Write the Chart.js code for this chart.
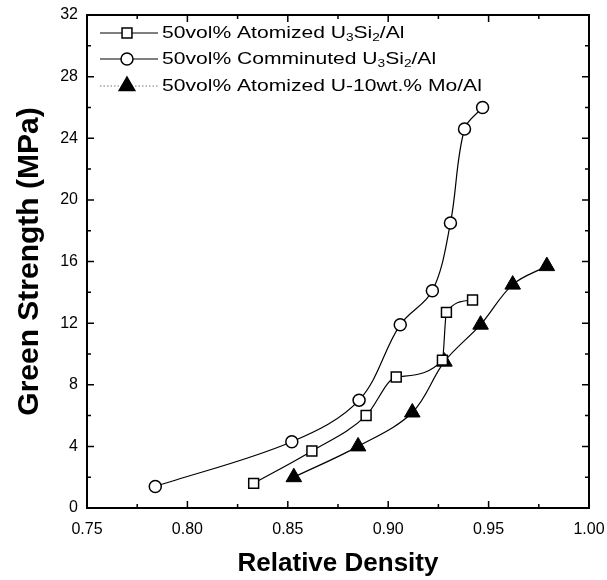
<!DOCTYPE html>
<html>
<head>
<meta charset="utf-8">
<script src="https://cdn.jsdelivr.net/npm/chart.js@4.4.0/dist/chart.umd.min.js"></script>
<style>
  html, body { margin: 0; padding: 0; background: #fff; }
</style>
</head>
<body>
<canvas id="myChart" width="607" height="580"></canvas>
<script>
// values
const atomizedDensity = [0.833, 0.862, 0.889, 0.904, 0.927, 0.929, 0.942];
const atomizedStrength = [1.6, 3.7, 6.0, 8.5, 9.6, 12.7, 13.5];
const comminutedDensity = [0.784, 0.852, 0.8855, 0.906, 0.922, 0.931, 0.938, 0.947];
const comminutedStrength = [1.4, 4.3, 7.0, 11.9, 14.1, 18.5, 24.6, 26.0];
const umoDensity = [0.853, 0.885, 0.912, 0.928, 0.946, 0.962, 0.979];
const umoStrength = [2.0, 4.0, 6.2, 9.5, 11.9, 14.5, 15.7];

const xTicks = [0.75, 0.80, 0.85, 0.90, 0.95, 1.00];
const yTicks = [0, 4, 8, 12, 16, 20, 24, 28, 32];

// legend text pieces: [text, isSubscript]
const legendRows = [
    { style: 'rect', fill: false, dotted: false,
      parts: [["50vol% Atomized U", 0], ["3", 1], ["Si", 0], ["2", 1], ["/Al", 0]] },
    { style: 'circle', fill: false, dotted: false,
      parts: [["50vol% Comminuted U", 0], ["3", 1], ["Si", 0], ["2", 1], ["/Al", 0]] },
    { style: 'triangle', fill: true, dotted: true,
      parts: [["50vol% Atomized U-10wt.% Mo/Al", 0]] }
];

function toPoints(xs, ys) {
    return xs.map((x, i) => ({ x: x, y: ys[i] }));
}

const framePlugin = {
    id: 'frame',
    afterDraw(chart) {
        const ctx = chart.ctx;
        const a = chart.chartArea;
        const xs = chart.scales.x;
        const ys = chart.scales.y;
        ctx.save();
        ctx.strokeStyle = '#000';
        ctx.lineWidth = 2;
        ctx.strokeRect(a.left, a.top, a.right - a.left, a.bottom - a.top);
        ctx.lineWidth = 1.5;
        ctx.beginPath();
        for (let v = 0.75; v <= 1.0001; v += 0.025) {
            const major = Math.abs(Math.round(v * 20) - v * 20) < 1e-6;
            const len = major ? 7 : 4;
            const px = xs.getPixelForValue(v);
            ctx.moveTo(px, a.bottom); ctx.lineTo(px, a.bottom - len);
            ctx.moveTo(px, a.top); ctx.lineTo(px, a.top + len);
        }
        for (let v = 0; v <= 32; v += 2) {
            const len = v % 4 === 0 ? 7 : 4;
            const py = ys.getPixelForValue(v);
            ctx.moveTo(a.left, py); ctx.lineTo(a.left + len, py);
            ctx.moveTo(a.right, py); ctx.lineTo(a.right - len, py);
        }
        ctx.stroke();

        // legend
        const rowY = [33, 59, 86];
        legendRows.forEach((row, i) => {
            const y = rowY[i];
            ctx.save();
            ctx.lineWidth = 1.2;
            ctx.strokeStyle = row.dotted ? '#777' : '#000';
            ctx.setLineDash(row.dotted ? [1.5, 2] : []);
            ctx.beginPath();
            ctx.moveTo(100, y); ctx.lineTo(158, y);
            ctx.stroke();
            ctx.restore();
            ctx.fillStyle = row.fill ? '#000' : '#fff';
            ctx.strokeStyle = '#000';
            ctx.lineWidth = 1.5;
            Chart.helpers.drawPoint(ctx, {
                pointStyle: row.style,
                radius: row.style === 'triangle' ? 9 : (row.style === 'rect' ? 7 : 6),
                rotation: 0,
                borderWidth: 1.5
            }, 127, y);

            ctx.save();
            ctx.translate(162, y);
            ctx.scale(1.24, 1);
            ctx.fillStyle = '#000';
            ctx.textBaseline = 'middle';
            let tx = 0;
            row.parts.forEach(([t, sub]) => {
                ctx.font = sub ? '11px "Liberation Sans", Arial' : '17px "Liberation Sans", Arial';
                ctx.fillText(t, tx, sub ? 5 : 0);
                tx += ctx.measureText(t).width;
            });
            ctx.restore();
        });
        ctx.restore();
    }
};

const ctx = document.getElementById('myChart');
new Chart(ctx, {
    type: 'scatter',
    data: {
        datasets: [
            {
                label: '50vol% Atomized U3Si2/Al',
                data: toPoints(atomizedDensity, atomizedStrength),
                showLine: true,
                borderColor: '#000',
                borderWidth: 1.2,
                pointStyle: 'rect',
                pointRadius: 7,
                pointBorderWidth: 1.5,
                pointBorderColor: '#000',
                pointBackgroundColor: '#fff',
                cubicInterpolationMode: 'monotone'
            },
            {
                label: '50vol% Comminuted U3Si2/Al',
                data: toPoints(comminutedDensity, comminutedStrength),
                showLine: true,
                borderColor: '#000',
                borderWidth: 1.2,
                pointStyle: 'circle',
                pointRadius: 6,
                pointBorderWidth: 1.5,
                pointBorderColor: '#000',
                pointBackgroundColor: '#fff',
                tension: 0.35
            },
            {
                label: '50vol% Atomized U-10wt.% Mo/Al',
                data: toPoints(umoDensity, umoStrength),
                showLine: true,
                borderColor: '#000',
                borderWidth: 1.2,
                pointStyle: 'triangle',
                pointRadius: 9,
                pointBorderWidth: 1,
                pointBorderColor: '#000',
                pointBackgroundColor: '#000',
                tension: 0.35
            }
        ]
    },
    options: {
        responsive: false,
        animation: false,
        layout: { padding: { top: 15, right: 18, left: 0, bottom: 0 } },
        plugins: {
            legend: { display: false },
            tooltip: { enabled: false }
        },
        scales: {
            x: {
                type: 'linear',
                min: 0.75,
                max: 1.0,
                afterFit: (s) => { s.height = 72; s.paddingLeft = 0; s.paddingRight = 0; },
                afterBuildTicks: (s) => { s.ticks = xTicks.map(v => ({ value: v })); },
                grid: { display: false, drawTicks: false },
                border: { display: false },
                ticks: {
                    padding: 12,
                    color: '#000',
                    font: { family: 'Liberation Sans', size: 16 },
                    callback: (v) => v.toFixed(2)
                },
                title: {
                    display: true,
                    text: 'Relative Density',
                    color: '#000',
                    font: { family: 'Liberation Sans', size: 26, weight: 'bold', lineHeight: 1.2 },
                    padding: { top: 0, bottom: 1 }
                }
            },
            y: {
                type: 'linear',
                min: 0,
                max: 32,
                afterFit: (s) => { s.width = 87; s.paddingTop = 0; s.paddingBottom = 0; },
                afterBuildTicks: (s) => { s.ticks = yTicks.map(v => ({ value: v })); },
                grid: { display: false, drawTicks: false },
                border: { display: false },
                ticks: {
                    padding: 9,
                    color: '#000',
                    font: { family: 'Liberation Sans', size: 16 },
                    callback: (v) => String(v)
                },
                title: {
                    display: true,
                    text: 'Green Strength (MPa)',
                    color: '#000',
                    font: { family: 'Liberation Sans', size: 30, weight: 'bold', lineHeight: 1.2 },
                    padding: { top: 12, bottom: 0 }
                }
            }
        }
    },
    plugins: [framePlugin]
});
</script>
</body>
</html>
